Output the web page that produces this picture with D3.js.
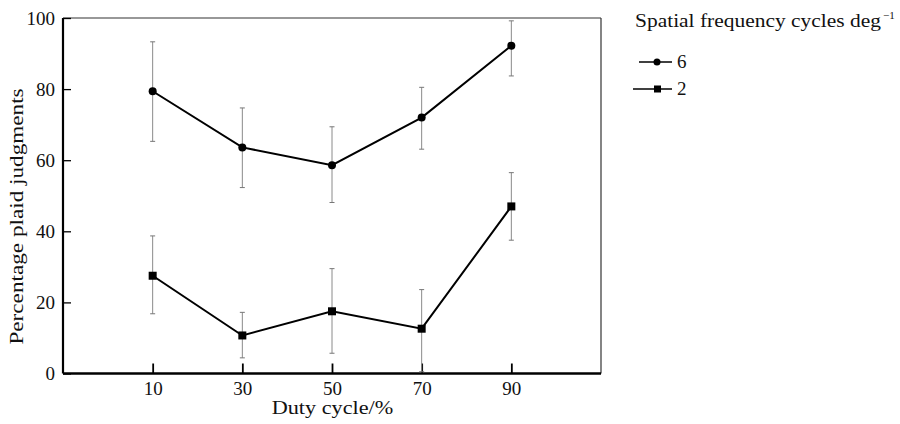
<!DOCTYPE html>
<html>
<head>
<meta charset="utf-8">
<script src="https://cdn.jsdelivr.net/npm/d3@7"></script>
<style>
  html, body { margin: 0; padding: 0; background: #fff; }
  svg text { font-family: "Liberation Serif", "Times New Roman", serif; fill: #111; }
</style>
</head>
<body>
<svg id="chart" width="900" height="424"></svg>
<script>
// ---- data ----
const dutyCycles = [10, 30, 50, 70, 90];
const xTickLabels = [10, 30, 50, 70, 90];
const yTickLabels = [0, 20, 40, 60, 80, 100];

const sf6Mean = [79.4, 63.6, 58.6, 72.0, 92.2];
const sf6Low  = [65.3, 52.3, 48.1, 63.1, 83.7];
const sf6High = [93.3, 74.7, 69.4, 80.5, 99.2];

const sf2Mean = [27.5, 10.7, 17.5, 12.6, 47.0];
const sf2Low  = [16.8, 4.4, 5.7, 0.5, 37.5];
const sf2High = [38.7, 17.2, 29.5, 23.6, 56.5];

const seriesNames = ["6", "2"];
const legendTitle = "Spatial frequency cycles deg";
const xTitle = "Duty cycle/%";
const yTitle = "Percentage plaid judgments";

// ---- layout ----
const svg = d3.select("#chart");
const plotLeft = 63, plotRight = 601, plotTop = 18, plotBottom = 373.5;
const x = d3.scaleLinear().domain([-10, 110]).range([plotLeft, plotRight]);
const y = d3.scaleLinear().domain([0, 100]).range([plotBottom, plotTop]);
const FS = 19;

function widen(sel, factor) {
  sel.each(function () {
    const w = this.getComputedTextLength();
    d3.select(this).attr("textLength", w * factor).attr("lengthAdjust", "spacingAndGlyphs");
  });
}

// frame: top & right thin
svg.append("line").attr("x1", plotLeft).attr("x2", plotRight).attr("y1", plotTop).attr("y2", plotTop)
  .attr("stroke", "#333").attr("stroke-width", 1.2);
svg.append("line").attr("x1", plotRight).attr("x2", plotRight).attr("y1", plotTop).attr("y2", plotBottom)
  .attr("stroke", "#333").attr("stroke-width", 1.2);

// axes
const yAxis = d3.axisLeft(y).tickValues(yTickLabels).tickSize(-8).tickPadding(8).tickFormat(d3.format("d"));
const gy = svg.append("g").attr("transform", `translate(${plotLeft},0)`).call(yAxis);
gy.select(".domain").attr("stroke", "#000").attr("stroke-width", 2.2).attr("d", `M0,${plotTop}V${plotBottom}`);
gy.selectAll(".tick line").attr("stroke", "#000").attr("stroke-width", 1.3);
gy.selectAll(".tick text").attr("font-size", FS).attr("font-family", "Liberation Serif").attr("fill", "#111");

const xAxis = d3.axisBottom(x).tickValues(xTickLabels).tickSize(-10).tickPadding(8).tickFormat(d3.format("d"));
const gx = svg.append("g").attr("transform", `translate(0,${plotBottom})`).call(xAxis);
gx.select(".domain").attr("stroke", "#000").attr("stroke-width", 2.6).attr("d", `M${plotLeft},0H${plotRight}`);
gx.selectAll(".tick line").attr("stroke", "#000").attr("stroke-width", 1.8);
gx.selectAll(".tick text").attr("font-size", FS).attr("font-family", "Liberation Serif").attr("fill", "#111");

// axis titles
const xt = svg.append("text").attr("x", 332.5).attr("y", 414)
  .attr("text-anchor", "middle").attr("font-size", FS).text(xTitle);
widen(xt, 1.17);
const yt = svg.append("text").attr("transform", `translate(23,216.5) rotate(-90)`)
  .attr("text-anchor", "middle").attr("font-size", FS).text(yTitle);
widen(yt, 1.22);

// series
const series = [
  { name: seriesNames[0], mean: sf6Mean, lo: sf6Low, hi: sf6High, shape: "circle" },
  { name: seriesNames[1], mean: sf2Mean, lo: sf2Low, hi: sf2High, shape: "square" }
];

const line = d3.line().x(d => x(d.x)).y(d => y(d.v));

series.forEach(s => {
  const pts = dutyCycles.map((d, i) => ({ x: d, v: s.mean[i], lo: s.lo[i], hi: s.hi[i] }));
  const g = svg.append("g");
  const eb = g.selectAll(".eb").data(pts).join("g").attr("class", "eb");
  eb.append("line").attr("x1", d => x(d.x)).attr("x2", d => x(d.x))
    .attr("y1", d => y(d.lo)).attr("y2", d => y(d.hi))
    .attr("stroke", "#8a8a8a").attr("stroke-width", 1);
  eb.append("line").attr("x1", d => x(d.x) - 2.5).attr("x2", d => x(d.x) + 2.5)
    .attr("y1", d => y(d.hi)).attr("y2", d => y(d.hi))
    .attr("stroke", "#777").attr("stroke-width", 1);
  eb.append("line").attr("x1", d => x(d.x) - 2.5).attr("x2", d => x(d.x) + 2.5)
    .attr("y1", d => y(d.lo)).attr("y2", d => y(d.lo))
    .attr("stroke", "#777").attr("stroke-width", 1);
  g.append("path").datum(pts).attr("d", line).attr("fill", "none")
    .attr("stroke", "#000").attr("stroke-width", 2);
  if (s.shape === "circle") {
    g.selectAll(".m").data(pts).join("circle").attr("class", "m")
      .attr("cx", d => x(d.x)).attr("cy", d => y(d.v)).attr("r", 4).attr("fill", "#000");
  } else {
    g.selectAll(".m").data(pts).join("rect").attr("class", "m")
      .attr("x", d => x(d.x) - 4).attr("y", d => y(d.v) - 4)
      .attr("width", 8).attr("height", 8).attr("fill", "#000");
  }
});

// legend
const lg = svg.append("g");
const lt = lg.append("text").attr("x", 635).attr("y", 27).attr("font-size", FS)
  .attr("textLength", 246).attr("lengthAdjust", "spacingAndGlyphs").text(legendTitle);
lg.append("text").attr("x", 883).attr("y", 19).attr("font-size", 11).text("\u22121");

const legendRows = [
  { name: seriesNames[0], shape: "circle", y: 62, x1: 639 },
  { name: seriesNames[1], shape: "square", y: 89, x1: 633 }
];
legendRows.forEach(r => {
  lg.append("line").attr("x1", r.x1).attr("x2", 672).attr("y1", r.y).attr("y2", r.y)
    .attr("stroke", "#000").attr("stroke-width", 1.5);
  if (r.shape === "circle") {
    lg.append("circle").attr("cx", 657).attr("cy", r.y).attr("r", 3.5).attr("fill", "#000");
  } else {
    lg.append("rect").attr("x", 654).attr("y", r.y - 3.5).attr("width", 7).attr("height", 7).attr("fill", "#000");
  }
  lg.append("text").attr("x", 677).attr("y", r.y + 6).attr("font-size", FS).text(r.name);
});
</script>
</body>
</html>
